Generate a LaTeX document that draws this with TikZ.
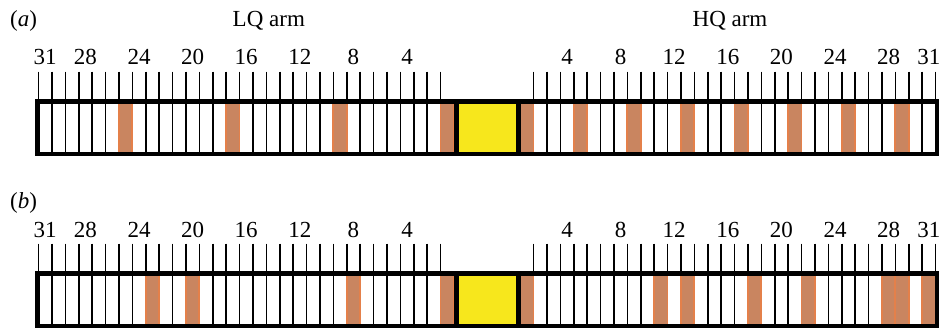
\documentclass[tikz,border=0pt]{standalone}
\usepackage{fontspec}
\setmainfont{Liberation Serif}
\definecolor{brn}{RGB}{201,133,96}
\definecolor{brnedge}{RGB}{228,128,74}
\definecolor{yel}{RGB}{247,231,28}
\tikzset{
  tickline/.style={line width=1.6pt,black},
  browncell/.style={fill=brn,draw=brnedge,line width=1.9pt},
  sepline/.style={line width=4.8pt,black},
  barframe/.style={line width=4.6pt,black,line cap=rect},
  numlabel/.style={font=\fontsize{23}{27}\selectfont,anchor=base,inner sep=0pt},
  armlabel/.style={font=\fontsize{23}{27}\selectfont,anchor=base,inner sep=0pt},
  partlabel/.style={font=\fontsize{23}{27}\selectfont,anchor=base west,inner sep=0pt}
}
\newcommand\mychain[4]{%
  \begin{scope}[shift={(0,#1)}]
    \fill[white] (37.5,101.7) rectangle (937,154);
    \foreach \i in {0,...,30}
      \draw[tickline] ({38.5+13.4*\i},71.7) -- ({38.5+13.4*\i},154);
    \foreach \i in {1,...,31}
      \draw[tickline] ({520.1+13.4*\i},71.7) -- ({520.1+13.4*\i},154);
    \foreach \k in {#2}
      \draw[browncell] ({38.5+13.4*(31-\k)},101.7) rectangle ({38.5+13.4*(32-\k)},154);
    \foreach \k in {#3}
      \draw[browncell] ({520.1+13.4*(\k-1)},101.7) rectangle ({520.1+13.4*\k},154);
    \fill[yel] (456.5,101.7) rectangle (518.5,154);
    \draw[sepline] (456.5,101.7) -- (456.5,154);
    \draw[sepline] (518.6,101.7) -- (518.6,154);
    \draw[barframe] (37.6,101.7) rectangle (937,154);
    \foreach \k in {31,28,24,20,16,12,8,4}
      \node[numlabel] (l#4\k) at ({45.2+13.4*(31-\k)},65) {\k};
    \foreach \k in {4,8,12,16,20,24,28,31}
      \node[numlabel] (r#4\k) at ({520.1+13.4*(\k-0.5)},65) {\k};
  \end{scope}%
}
\begin{document}
\begin{tikzpicture}[x=1pt,y=-1pt]
  \useasboundingbox (0,0) rectangle (939,329);
  \node[partlabel] (pa) at (10,27) {(\textit{a})};
  \node[armlabel] (lq) at (268.8,26.7) {LQ arm};
  \node[armlabel] (hq) at (730,26.7) {HQ arm};
  \mychain{0}{1,9,17,25}{1,5,9,13,17,21,25,29}{a}
  \node[partlabel] (pb) at (10,208.3) {(\textit{b})};
  \mychain{172}{1,8,20,23}{1,11,13,18,22,28,29,31}{b}
\end{tikzpicture}
\end{document}
